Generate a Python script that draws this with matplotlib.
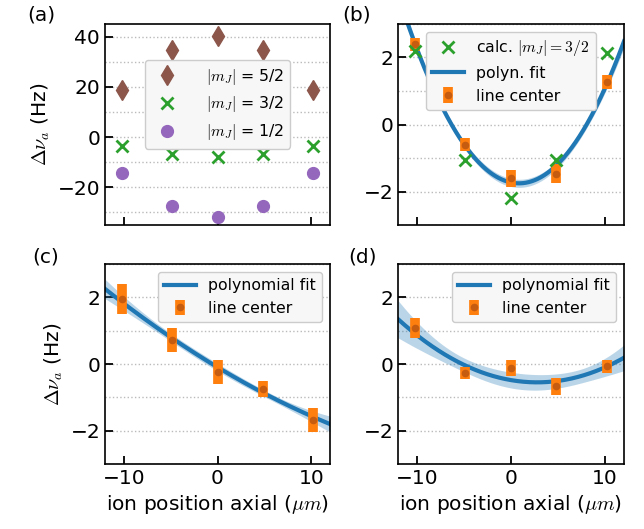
import numpy as np
import matplotlib.pyplot as plt
from matplotlib.ticker import MultipleLocator

# ion positions (um)
pos = [-10.2, -4.9, 0.0, 4.8, 10.2]

# (a) calculated shifts for |m_J| (Hz)
mj52 = [18.7, 34.7, 40.4, 34.7, 18.7]
mj32 = [-3.6, -6.9, -8.0, -6.9, -3.6]
mj12 = [-14.5, -27.3, -31.7, -27.3, -14.5]

# (b) calc. |m_J|=3/2 (mean removed) and measured line centers
calc_b = [2.19, -1.07, -2.19, -1.07, 2.12]
center_b = [2.39, -0.60, -1.61, -1.47, 1.27]
err_b = [0.20, 0.20, 0.25, 0.28, 0.20]

# (c) measured line centers
center_c = [1.95, 0.72, -0.25, -0.74, -1.68]
err_c = [0.46, 0.36, 0.36, 0.24, 0.35]

# (d) measured line centers
center_d = [1.09, -0.27, -0.12, -0.67, -0.07]
err_d = [0.30, 0.19, 0.23, 0.25, 0.19]

plt.rcParams['font.size'] = 14.5
plt.rcParams['legend.fontsize'] = 11.3
plt.rcParams['mathtext.fontset'] = 'cm'

ORANGE = '#ff7f0e'
DOT = '#c65c0f'
BLUE = '#1f77b4'


def poly_band(x, y, err, deg, xs):
    """Weighted polynomial fit, band scaled by reduced chi2"""
    x = np.asarray(x)
    y = np.asarray(y)
    w = 1 / np.asarray(err)
    c, cov = np.polyfit(x, y, deg, w=w, cov='unscaled')
    chi2 = np.sum((w * (y - np.polyval(c, x))) ** 2)
    cov = cov * chi2 / (len(x) - deg - 1)
    V = np.vander(xs, deg + 1)
    fit = V @ c
    sig = np.sqrt(np.einsum('ij,jk,ik->i', V, cov, V))
    return fit, sig


def style_axes(ax, major, minor):
    ax.tick_params(direction='in', length=6, width=1.3, which='major')
    ax.tick_params(which='minor', length=0)
    ax.yaxis.set_major_locator(MultipleLocator(major))
    ax.yaxis.set_minor_locator(MultipleLocator(minor))
    ax.xaxis.set_major_locator(MultipleLocator(10))
    ax.grid(axis='y', which='both', linestyle=':', color='#bbbbbb', lw=1)
    ax.set_axisbelow(True)
    ax.set_xlim(-12, 12)
    for s in ax.spines.values():
        s.set_linewidth(1.2)


def plot_centers(ax, y, err):
    ax.errorbar(pos, y, yerr=err, fmt='o', color=DOT, ms=4.5,
                ecolor=ORANGE, elinewidth=7, capsize=0, zorder=4,
                label='line center')


def plot_fit(ax, y, err, label):
    xs = np.linspace(-12, 12, 300)
    fit, sig = poly_band(pos, y, err, 2, xs)
    ax.fill_between(xs, fit - sig, fit + sig, color=BLUE, alpha=0.3, lw=0)
    ax.plot(xs, fit, color=BLUE, lw=3, label=label)


legend_kw = dict(facecolor='#f7f7f7', framealpha=1, edgecolor='#cccccc')

fig = plt.figure(figsize=(6.44, 5.29), dpi=100)
W, H = 644, 529


def add(l, t, r, b):
    return fig.add_axes([l / W, 1 - b / H, (r - l) / W, (b - t) / H])


ax_a = add(105, 24, 330, 225)
ax_b = add(398, 24, 624, 225)
ax_c = add(105, 264, 330, 464)
ax_d = add(398, 264, 624, 464)

# (a)
style_axes(ax_a, 20, 10)
ax_a.plot(pos, mj52, 'd', color='#8c564b', ms=10, ls='none', label=r'$|m_J|$ = 5/2')
ax_a.plot(pos, mj32, 'x', color='#2ca02c', ms=8, mew=2, ls='none', label=r'$|m_J|$ = 3/2')
ax_a.plot(pos, mj12, 'o', color='#9467bd', ms=8.5, ls='none', label=r'$|m_J|$ = 1/2')
ax_a.set_ylim(-35, 45)
ax_a.set_xticklabels([])
ax_a.set_ylabel(r'$\Delta\nu_a$ (Hz)')
ax_a.legend(loc='center', bbox_to_anchor=(0.5, 0.6), handletextpad=1.5, **legend_kw)

# (b)
style_axes(ax_b, 2, 1)
ax_b.plot(pos, calc_b, 'x', color='#2ca02c', ms=8, mew=2, ls='none', zorder=5,
          label=r'calc. $|m_J|=3/2$')
plot_fit(ax_b, center_b, err_b, 'polyn. fit')
plot_centers(ax_b, center_b, err_b)
ax_b.set_ylim(-3, 3)
ax_b.set_xticklabels([])
ax_b.legend(loc='upper center', **legend_kw)

# (c)
style_axes(ax_c, 2, 1)
plot_fit(ax_c, center_c, err_c, 'polynomial fit')
plot_centers(ax_c, center_c, err_c)
ax_c.set_ylim(-3, 3)
ax_c.set_ylabel(r'$\Delta\nu_a$ (Hz)')
ax_c.set_xlabel(r'ion position axial ($\mu m$)')
ax_c.legend(loc='upper right', **legend_kw)

# (d)
style_axes(ax_d, 2, 1)
plot_fit(ax_d, center_d, err_d, 'polynomial fit')
plot_centers(ax_d, center_d, err_d)
ax_d.set_ylim(-3, 3)
ax_d.set_xlabel(r'ion position axial ($\mu m$)')
ax_d.legend(loc='upper right', **legend_kw)

# panel labels
fig.text(41 / W, 1 - 15 / H, '(a)', ha='center', va='center')
fig.text(357 / W, 1 - 15 / H, '(b)', ha='center', va='center')
fig.text(46 / W, 1 - 257 / H, '(c)', ha='center', va='center')
fig.text(363 / W, 1 - 257 / H, '(d)', ha='center', va='center')

fig.savefig('out.png', dpi=100)
